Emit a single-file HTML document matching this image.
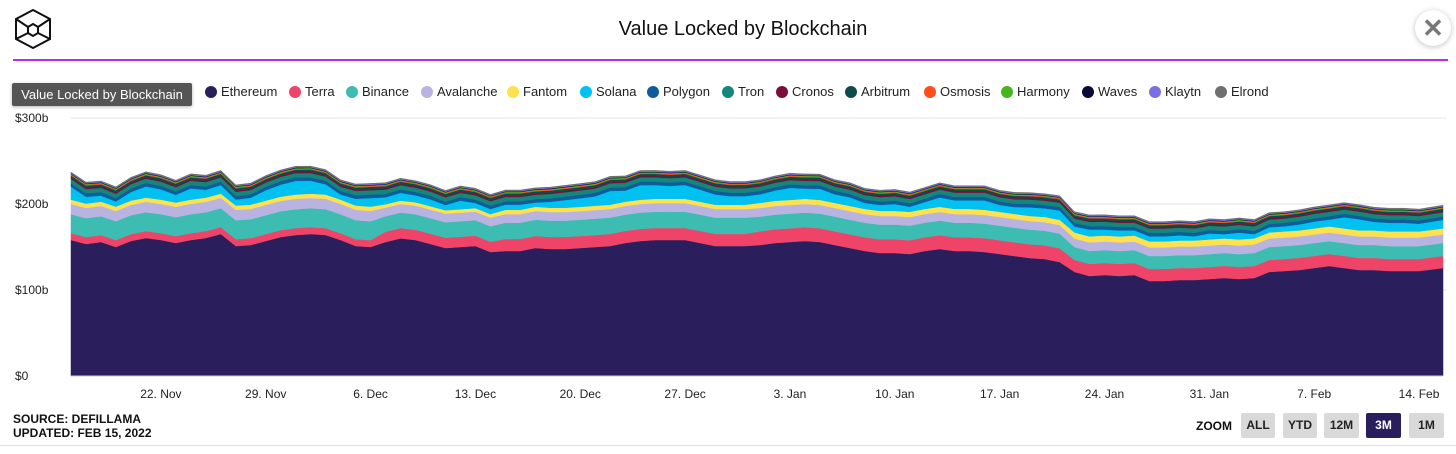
<!DOCTYPE html>
<html><head><meta charset="utf-8"><style>
body{margin:0;width:1456px;height:454px;background:#fff;font-family:"Liberation Sans",sans-serif;position:relative;overflow:hidden}
.abs{position:absolute}
.leg{position:absolute;top:84px;font-size:13px;color:#222;white-space:nowrap}
.leg i{position:absolute;left:-16px;top:2px;width:12px;height:12px;border-radius:50%}
.zb{position:absolute;top:413px;height:25px;background:#d9d9d9;border-radius:2px;font-size:12px;font-weight:bold;color:#222;text-align:center;line-height:25px}
</style></head><body>
<svg class="abs" style="left:13px;top:8px" width="40" height="42" viewBox="0 0 40 42"><g fill="none" stroke="#111" stroke-width="2"><polygon points="20,2 37,11 37,31 20,40 3,31 3,11"/><polygon points="20,16 25,19 25,25 20,28 15,25 15,19"/><line x1="3" y1="11" x2="15" y2="19"/><line x1="37" y1="11" x2="25" y2="19"/><line x1="3" y1="31" x2="15" y2="25"/><line x1="37" y1="31" x2="25" y2="25"/></g></svg>
<div class="abs" style="left:0;width:1486px;top:18px;text-align:center;font-size:20px;color:#111">Value Locked by Blockchain</div>
<div class="abs" style="left:1415px;top:10px;width:36px;height:36px;border-radius:50%;background:#fff;box-shadow:0 1px 6px rgba(0,0,0,.25);text-align:center;line-height:36px;font-size:26px;font-weight:bold;color:#777">✕</div>
<div class="abs" style="left:13px;top:59px;width:1435px;height:2px;background:#b42bf5"></div>
<div class="abs" style="left:12px;top:83px;width:180px;height:23px;background:#555;color:#fff;font-size:13px;line-height:23px;text-align:center;border-radius:2px;box-shadow:0 1px 3px rgba(0,0,0,.3)">Value Locked by Blockchain</div>
<div id="legend"></div>
<svg id="chart" class="abs" style="left:0;top:0" width="1456" height="454"></svg>
<div class="abs" style="left:13px;top:412px;font-size:12px;font-weight:bold;color:#111;line-height:14px">SOURCE: DEFILLAMA<br>UPDATED: FEB 15, 2022</div>
<div class="abs" style="left:1196px;top:419px;font-size:12px;font-weight:bold;color:#111">ZOOM</div>
<div class="zb" style="left:1241px;width:34px">ALL</div>
<div class="zb" style="left:1283px;width:34px">YTD</div>
<div class="zb" style="left:1324px;width:35px">12M</div>
<div class="zb" style="left:1366px;width:35px;background:#2a1f5c;color:#fff">3M</div>
<div class="zb" style="left:1409px;width:35px">1M</div>
<div class="abs" style="left:0;top:445px;width:1456px;height:1px;background:#ddd"></div>
<script>
const seriesNames=["Ethereum","Terra","Binance","Avalanche","Fantom","Solana","Polygon","Tron","Cronos","Arbitrum","Osmosis","Harmony","Waves","Klaytn","Elrond"];
const ethereum=[158.1,153.5,155.8,150,157,160.5,158.1,154.7,158.1,160.5,165.1,151.2,152.3,157,161.6,164,165.1,164,158.1,151.2,150,155.8,160,158.1,153.5,148.8,150,151.2,144.2,145.3,145.3,148.8,147.7,147.7,148.8,150,151.2,154.7,157,158.1,158.1,158.1,154.7,151.2,151.2,151.2,152.3,154.7,155.8,157,155.8,152.3,148.8,145.3,143,143,141.9,145.3,147.7,145.3,145.3,144.2,141.9,139.5,137.2,136,132.6,121,116.3,117.4,116.3,117.4,110.5,110.5,111.6,111.6,112.8,114,112.8,114,121,122.1,123.3,125.6,127.9,125.6,123.3,123.3,122.1,122.1,122.1,125.6];
const terra=[8,8,8,8,8,8,8,8,8,8,8,8,8,8,8,8,8,8,8,8,8,12,12,12,12,12,12,12,12,14,14,14,14,14,14,14,14,14,14,14,14,14,14,14,14,14,16,16,16,16,16,16,16,16,16,16,16,16,16,16,16,16,16,16,16,16,16,14,14,14,14,14,14,14,14,14,14,14,14,14,14,14,14,14,14,14,14,14,14,14,14,14];
const binance=[22,22,22,22,22,22,22,22,22,22,22,22,22,22,22,22,22,22,22,22,22,18,18,18,18,18,18,18,18,19,19,19,19,19,19,19,19,19,19,19,19,19,19,19,19,19,17,17,17,17,17,17,17,17,17,17,17,17,17,17,17,17,17,17,17,17,17,15,15,15,15,15,15,15,15,15,15,15,15,15,15,15,15,15,15,15,15,15,15,15,15,15];
const avalanche=[12,12,12,12,12,12,12,12,12,12,12,12,12,12,12,12,12,12,12,12,12,10,10,10,10,10,10,10,10,10,10,10,10,10,10,10,10,10,10,10,10,10,10,10,10,10,10,10,10,10,10,10,10,10,10,10,10,10,10,10,10,10,10,10,10,10,10,10,10,10,10,10,10,10,10,10,10,10,10,10,10,10,10,10,10,10,10,10,10,10,10,10];
const fantom=[5,5,5,5,5,5,5,5,5,5,5,5,5,5,5,5,5,5,5,5,5,4,4,4,4,4,4,4,4,5,5,5,5,5,5,5,5,5,5,5,5,5,5,5,5,5,6,6,6,6,6,6,6,6,6,6,6,6,6,6,6,6,6,6,6,6,6,7,7,7,7,7,7,7,7,7,7,7,7,7,7,7,7,7,7,7,7,7,7,7,7,7];
const solana=[15,8,7,6,10,13,12,9,13,9,10,7,8,12,14,16,15,12,6,8,10,8,9,8,8,6,10,6,6,6,6,5,7,9,10,11,16,13,17,16,15,16,14,12,10,10,10,12,14,12,13,10,10,7,7,8,6,8,11,10,10,11,8,8,10,10,11,7,8,7,7,6,6,6,6,5,7,5,8,5,6,6,7,8,8,13,13,10,10,10,9,10];
const polygon=[4,4,4,4,4,4,4,4,4,4,4,4,4,4,4,4,4,4,4,4,4,4,4,4,4,4,4,4,4,4,4,4,4,4,4,4,4,4,4,4,4,4,4,4,4,4,4,4,4,4,4,4,4,4,4,4,4,4,4,4,4,4,4,4,4,4,4,4,4,4,4,4,4,4,4,4,4,4,4,4,4,4,4,4,4,4,4,4,4,4,4,4];
const tron=[5,5,5,5,5,5,5,5,5,5,5,5,5,5,5,5,5,5,5,5,5,5,5,5,5,5,5,5,5,5,5,5,5,5,5,5,5,5,5,5,5,5,5,5,5,5,5,5,5,5,5,5,5,5,5,5,5,5,5,5,5,5,5,5,5,5,5,5,5,5,5,5,5,5,5,5,5,5,5,5,5,5,5,5,5,5,5,5,5,5,5,5];
const cronos=[1.5,1.5,1.5,1.5,1.5,1.5,1.5,1.5,1.5,1.5,1.5,1.5,1.5,1.5,1.5,1.5,1.5,1.5,1.5,1.5,1.5,1.5,1.5,1.5,1.5,1.5,1.5,1.5,1.5,1.5,1.5,1.5,1.5,1.5,1.5,1.5,1.5,1.5,1.5,1.5,1.5,1.5,1.5,1.5,1.5,1.5,1.5,1.5,1.5,1.5,1.5,1.5,1.5,1.5,1.5,1.5,1.5,1.5,1.5,1.5,1.5,1.5,1.5,1.5,1.5,1.5,1.5,1.5,1.5,1.5,1.5,1.5,1.5,1.5,1.5,1.5,1.5,1.5,1.5,1.5,1.5,1.5,1.5,1.5,1.5,1.5,1.5,1.5,1.5,1.5,1.5,1.5];
const arbitrum=[2.5,2.5,2.5,2.5,2.5,2.5,2.5,2.5,2.5,2.5,2.5,2.5,2.5,2.5,2.5,2.5,2.5,2.5,2.5,2.5,2.5,2.5,2.5,2.5,2.5,2.5,2.5,2.5,2.5,2.5,2.5,2.5,2.5,2.5,2.5,2.5,2.5,2.5,2.5,2.5,2.5,2.5,2.5,2.5,2.5,2.5,2.5,2.5,2.5,2.5,2.5,2.5,2.5,2.5,2.5,2.5,2.5,2.5,2.5,2.5,2.5,2.5,2.5,2.5,2.5,2.5,2.5,2.5,2.5,2.5,2.5,2.5,2.5,2.5,2.5,2.5,2.5,2.5,2.5,2.5,2.5,2.5,2.5,2.5,2.5,2.5,2.5,2.5,2.5,2.5,2.5,2.5];
const osmosis=[1,1,1,1,1,1,1,1,1,1,1,1,1,1,1,1,1,1,1,1,1,1,1,1,1,1,1,1,1,1,1,1,1,1,1,1,1,1,1,1,1,1,1,1,1,1,1,1,1,1,1,1,1,1,1,1,1,1,1,1,1,1,1,1,1,1,1,1,1,1,1,1,1,1,1,1,1,1,1,1,1,1,1,1,1,1,1,1,1,1,1,1];
const harmony=[0.8,0.8,0.8,0.8,0.8,0.8,0.8,0.8,0.8,0.8,0.8,0.8,0.8,0.8,0.8,0.8,0.8,0.8,0.8,0.8,0.8,0.8,0.8,0.8,0.8,0.8,0.8,0.8,0.8,0.8,0.8,0.8,0.8,0.8,0.8,0.8,0.8,0.8,0.8,0.8,0.8,0.8,0.8,0.8,0.8,0.8,0.8,0.8,0.8,0.8,0.8,0.8,0.8,0.8,0.8,0.8,0.8,0.8,0.8,0.8,0.8,0.8,0.8,0.8,0.8,0.8,0.8,0.8,0.8,0.8,0.8,0.8,0.8,0.8,0.8,0.8,0.8,0.8,0.8,0.8,0.8,0.8,0.8,0.8,0.8,0.8,0.8,0.8,0.8,0.8,0.8,0.8];
const waves=[0.7,0.7,0.7,0.7,0.7,0.7,0.7,0.7,0.7,0.7,0.7,0.7,0.7,0.7,0.7,0.7,0.7,0.7,0.7,0.7,0.7,0.7,0.7,0.7,0.7,0.7,0.7,0.7,0.7,0.7,0.7,0.7,0.7,0.7,0.7,0.7,0.7,0.7,0.7,0.7,0.7,0.7,0.7,0.7,0.7,0.7,0.7,0.7,0.7,0.7,0.7,0.7,0.7,0.7,0.7,0.7,0.7,0.7,0.7,0.7,0.7,0.7,0.7,0.7,0.7,0.7,0.7,0.7,0.7,0.7,0.7,0.7,0.7,0.7,0.7,0.7,0.7,0.7,0.7,0.7,0.7,0.7,0.7,0.7,0.7,0.7,0.7,0.7,0.7,0.7,0.7,0.7];
const klaytn=[0.8,0.8,0.8,0.8,0.8,0.8,0.8,0.8,0.8,0.8,0.8,0.8,0.8,0.8,0.8,0.8,0.8,0.8,0.8,0.8,0.8,0.8,0.8,0.8,0.8,0.8,0.8,0.8,0.8,0.8,0.8,0.8,0.8,0.8,0.8,0.8,0.8,0.8,0.8,0.8,0.8,0.8,0.8,0.8,0.8,0.8,0.8,0.8,0.8,0.8,0.8,0.8,0.8,0.8,0.8,0.8,0.8,0.8,0.8,0.8,0.8,0.8,0.8,0.8,0.8,0.8,0.8,0.8,0.8,0.8,0.8,0.8,0.8,0.8,0.8,0.8,0.8,0.8,0.8,0.8,0.8,0.8,0.8,0.8,0.8,0.8,0.8,0.8,0.8,0.8,0.8,0.8];
const elrond=[0.7,0.7,0.7,0.7,0.7,0.7,0.7,0.7,0.7,0.7,0.7,0.7,0.7,0.7,0.7,0.7,0.7,0.7,0.7,0.7,0.7,0.7,0.7,0.7,0.7,0.7,0.7,0.7,0.7,0.7,0.7,0.7,0.7,0.7,0.7,0.7,0.7,0.7,0.7,0.7,0.7,0.7,0.7,0.7,0.7,0.7,0.7,0.7,0.7,0.7,0.7,0.7,0.7,0.7,0.7,0.7,0.7,0.7,0.7,0.7,0.7,0.7,0.7,0.7,0.7,0.7,0.7,0.7,0.7,0.7,0.7,0.7,0.7,0.7,0.7,0.7,0.7,0.7,0.7,0.7,0.7,0.7,0.7,0.7,0.7,0.7,0.7,0.7,0.7,0.7,0.7,0.7];
const yTickValues=[0,100,200,300];
const yTickLabels=["$0","$100b","$200b","$300b"];
const xTickDays=[6,13,20,27,34,41,48,55,62,69,76,83,90];
const xTickLabels=["22. Nov","29. Nov","6. Dec","13. Dec","20. Dec","27. Dec","3. Jan","10. Jan","17. Jan","24. Jan","31. Jan","7. Feb","14. Feb"];

const series=[ethereum,terra,binance,avalanche,fantom,solana,polygon,tron,cronos,arbitrum,osmosis,harmony,waves,klaytn,elrond];
const colors=["#2a1f5c","#ef4468","#3dbdb2","#b9b3e2","#ffe14d","#00c1ef","#0f5c9c","#13877a","#7a0d3a","#0d4a4a","#ff4d1a","#47b51d","#0a0a3a","#7b6fe0","#6f6f6f"];
const X0=71,X1=1443,Y0=376,Y1=118,DMAX=91.6;
const xs=d=>X0+(d/DMAX)*(X1-X0);
const ys=v=>Y0-(v/300)*(Y0-Y1);
const NS="http://www.w3.org/2000/svg";
const svg=document.getElementById('chart');
function mk(tag,attrs){const e=document.createElementNS(NS,tag);for(const k in attrs)e.setAttribute(k,attrs[k]);svg.appendChild(e);return e;}
yTickValues.forEach((v,i)=>{
  if(v>0){const g=mk('line',{x1:X0,x2:X1+4,y1:ys(v),y2:ys(v),stroke:'#e6e6e6','stroke-width':1});
  
  }
  const t=mk('text',{x:15,y:ys(v)+4,'font-size':12,fill:'#222','font-family':'Liberation Sans, sans-serif'});
  t.textContent=yTickLabels[i];
  
  
});
const n=ethereum.length;
let base=new Array(n).fill(0);
series.forEach((s,si)=>{
  const top=base.map((b,i)=>b+s[i]);
  const px=i=>(i===n-1?X1:xs(i));
  let d='';
  for(let i=0;i<n;i++)d+=(i?'L':'M')+px(i).toFixed(1)+','+ys(top[i]).toFixed(1);
  for(let i=n-1;i>=0;i--)d+='L'+px(i).toFixed(1)+','+ys(base[i]).toFixed(1);
  const p=mk('path',{d:d+'Z',fill:colors[si],stroke:colors[si],'stroke-width':0.5});
  
  
  base=top;
});
const bl=mk('line',{x1:X0,x2:X1,y1:Y0,y2:Y0,stroke:'#ccc'});


xTickDays.forEach((d,i)=>{
  const t=mk('text',{x:xs(d),y:398,'font-size':12,fill:'#222','text-anchor':'middle','font-family':'Liberation Sans, sans-serif'});
  t.textContent=xTickLabels[i];
  
  
});
const legX=[221,305,362,437,523,596,663,738,792,861,940,1017,1098,1165,1231];
const leg=document.getElementById('legend');
seriesNames.forEach((nm,i)=>{
  const e=document.createElement('div');e.className='leg';e.style.left=legX[i]+'px';
  e.innerHTML='<i style="background:'+colors[i]+'"></i>'+nm;
  
  
  leg.appendChild(e);
});
</script>
</body></html>
